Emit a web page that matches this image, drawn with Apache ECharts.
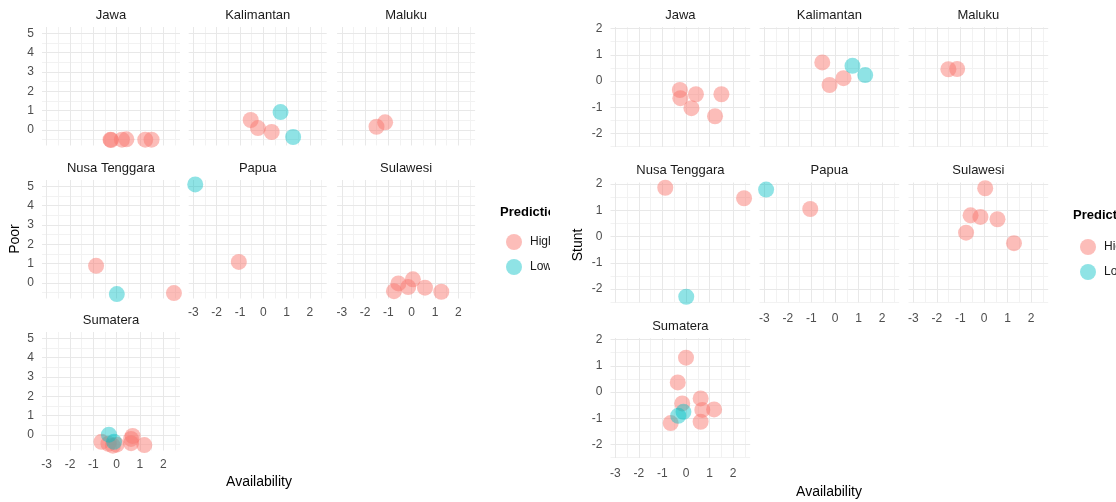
<!DOCTYPE html>
<html>
<head>
<meta charset="utf-8">
<script src="https://cdn.jsdelivr.net/npm/echarts@6/dist/echarts.min.js"></script>
<style>
html, body { margin: 0; padding: 0; background: #fff; }
#chart { width: 1116px; height: 502px; }
</style>
</head>
<body>
<div id="chart"></div>
<script>
// facet order (facet_wrap, 3 columns)
var regions = ['Jawa', 'Kalimantan', 'Maluku', 'Nusa Tenggara', 'Papua', 'Sulawesi', 'Sumatera'];

// one entry per province
var provRegion = [
  'Jawa', 'Jawa', 'Jawa', 'Jawa', 'Jawa', 'Jawa',
  'Kalimantan', 'Kalimantan', 'Kalimantan', 'Kalimantan', 'Kalimantan',
  'Maluku', 'Maluku',
  'Nusa Tenggara', 'Nusa Tenggara', 'Nusa Tenggara',
  'Papua', 'Papua',
  'Sulawesi', 'Sulawesi', 'Sulawesi', 'Sulawesi', 'Sulawesi', 'Sulawesi',
  'Sumatera', 'Sumatera', 'Sumatera', 'Sumatera', 'Sumatera',
  'Sumatera', 'Sumatera', 'Sumatera', 'Sumatera', 'Sumatera'
];
var availability = [
  -0.26, -0.24, 0.23, 0.42, 1.23, 1.5,
  -0.54, -0.23, 0.36, 0.74, 1.28,
  -1.51, -1.14,
  -0.88, 0.01, 2.46,
  -2.92, -1.05,
  -0.76, -0.57, -0.15, 0.05, 0.57, 1.27,
  0.0, -0.35, -0.16, 0.62, 0.69,
  1.19, 0.62, -0.65, -0.11, -0.33
];
var poor = [
  -0.5, -0.52, -0.5, -0.48, -0.5, -0.5,
  0.52, 0.1, -0.1, 0.93, -0.36,
  0.17, 0.4,
  0.89, -0.57, -0.52,
  5.1, 1.09,
  -0.42, -0.02, -0.21, 0.19, -0.24, -0.45,
  -0.5, -0.45, -0.55, -0.2, -0.05,
  -0.52, -0.42, -0.35, -0.35, 0.02
];
var stunt = [
  -0.34, -0.65, -1.03, -0.5, -1.34, -0.5,
  0.71, -0.15, 0.11, 0.58, 0.23,
  0.45, 0.46,
  1.86, -2.29, 1.46,
  1.79, 1.05,
  0.15, 0.81, 0.75, 1.84, 0.66, -0.25,
  1.31, 0.37, -0.43, -0.24, -0.68,
  -0.66, -1.13, -1.18, -0.75, -0.9
];
var prediction = [
  'High', 'High', 'High', 'High', 'High', 'High',
  'High', 'High', 'High', 'Low', 'Low',
  'High', 'High',
  'High', 'Low', 'High',
  'Low', 'High',
  'High', 'High', 'High', 'High', 'High', 'High',
  'High', 'High', 'High', 'High', 'High',
  'High', 'High', 'High', 'Low', 'Low'
];
var classes = ['High', 'Low'];

// gridline positions
var xMajor = [-3, -2, -1, 0, 1, 2];
var xMinor = [-2.5, -1.5, -0.5, 0.5, 1.5, 2.5];
var poorMajor = [0, 1, 2, 3, 4, 5];
var poorMinor = [-0.5, 0.5, 1.5, 2.5, 3.5, 4.5];
var stuntMajor = [-2, -1, 0, 1, 2];
var stuntMinor = [-2.5, -1.5, -0.5, 0.5, 1.5];

var colors = { High: 'rgba(248,118,109,0.6)', Low: 'rgba(0,191,196,0.55)' };
var font = 'Liberation Sans, Arial, sans-serif';

var plots = [
  {
    values: poor, yName: 'Poor', yMin: -0.8, yMax: 5.33, yMajor: poorMajor, yMinor: poorMinor,
    left: [42, 188.7, 337.1], width: 138, top: [27, 180, 332], height: 118.5,
    xMargin: 8, xTitle: [259, 482], yTitle: [15, 239],
    legendLeft: 501, legendTop: 229, legendTitle: [500, 212]
  },
  {
    values: stunt, yName: 'Stunt', yMin: -2.51, yMax: 2.06, yMajor: stuntMajor, yMinor: stuntMinor,
    left: [610.5, 759.5, 908.5], width: 139.7, top: [27, 182.5, 338], height: 120,
    xMargin: 10, xTitle: [829, 492], yTitle: [578, 245],
    legendLeft: 1075, legendTop: 234, legendTitle: [1073, 215]
  }
];

function intLabel(v) {
  return Math.abs(v - Math.round(v)) < 1e-6 ? String(Math.round(v)) : '';
}

var grids = [], xAxes = [], yAxes = [], series = [], graphics = [], legends = [];

plots.forEach(function (p) {
  regions.forEach(function (reg, r) {
    var col = r % 3, row = Math.floor(r / 3);
    var k = grids.length;
    grids.push({ left: p.left[col], top: p.top[row], width: p.width, height: p.height, containLabel: false });
    var showX = (r >= 4);
    var showY = (col === 0);
    xAxes.push({
      type: 'value', gridIndex: k, min: -3.2, max: 2.72,
      axisLine: { show: false }, axisTick: { show: false }, splitLine: { show: false },
      axisLabel: { show: showX, color: '#4d4d4d', fontSize: 12, fontFamily: font, margin: p.xMargin, formatter: intLabel }
    });
    yAxes.push({
      type: 'value', gridIndex: k, min: p.yMin, max: p.yMax,
      axisLine: { show: false }, axisTick: { show: false }, splitLine: { show: false },
      axisLabel: { show: showY, color: '#4d4d4d', fontSize: 12, fontFamily: font, margin: 8, formatter: intLabel }
    });

    var lines = [];
    xMinor.forEach(function (v) { lines.push({ xAxis: v, lineStyle: { color: '#f2f2f2', width: 1 } }); });
    p.yMinor.forEach(function (v) { lines.push({ yAxis: v, lineStyle: { color: '#f2f2f2', width: 1 } }); });
    xMajor.forEach(function (v) { lines.push({ xAxis: v, lineStyle: { color: '#e8e8e8', width: 1 } }); });
    p.yMajor.forEach(function (v) { lines.push({ yAxis: v, lineStyle: { color: '#e8e8e8', width: 1 } }); });
    series.push({
      name: 'grid', type: 'scatter', xAxisIndex: k, yAxisIndex: k, data: [], z: 1, silent: true,
      markLine: {
        z: 1, silent: true, symbol: ['none', 'none'], label: { show: false }, animation: false,
        emphasis: { disabled: true }, lineStyle: { type: 'solid' }, data: lines
      }
    });

    classes.forEach(function (c) {
      var pts = [];
      for (var i = 0; i < provRegion.length; i++) {
        if (provRegion[i] === reg && prediction[i] === c) pts.push([availability[i], p.values[i]]);
      }
      series.push({
        name: c, type: 'scatter', xAxisIndex: k, yAxisIndex: k, data: pts, z: 10,
        symbol: 'circle', symbolSize: 16, itemStyle: { color: colors[c] }, emphasis: { disabled: true }
      });
    });

    graphics.push({
      type: 'text', x: p.left[col] + p.width / 2, y: p.top[row] - 12, z: 10,
      style: { text: reg, fontSize: 13, fontFamily: font, fill: '#1a1a1a', align: 'center', verticalAlign: 'middle' }
    });
  });

  graphics.push({
    type: 'text', x: p.xTitle[0], y: p.xTitle[1], z: 10,
    style: { text: 'Availability', fontSize: 14, fontFamily: font, fill: '#000', align: 'center', verticalAlign: 'middle' }
  });
  graphics.push({
    type: 'text', x: p.yTitle[0], y: p.yTitle[1], rotation: Math.PI / 2, z: 10,
    style: { text: p.yName, fontSize: 14, fontFamily: font, fill: '#000', align: 'center', verticalAlign: 'middle' }
  });
  graphics.push({
    type: 'text', x: p.legendTitle[0], y: p.legendTitle[1], z: 10,
    style: { text: 'Prediction', fontSize: 13, fontWeight: 'bold', fontFamily: font, fill: '#000', align: 'left', verticalAlign: 'middle' }
  });
  legends.push({
    data: classes, orient: 'vertical', left: p.legendLeft, top: p.legendTop,
    icon: 'circle', itemWidth: 22, itemHeight: 16, itemGap: 9, selectedMode: false,
    textStyle: { fontSize: 12, color: '#1a1a1a', fontFamily: font }
  });
});

// the left panel is cropped at its right edge in the source image
graphics.push({ type: 'rect', shape: { x: 550, y: 195, width: 19, height: 80 }, style: { fill: '#fff' }, z: 100 });

var chart = echarts.init(document.getElementById('chart'));
chart.setOption({
  animation: false,
  backgroundColor: '#fff',
  textStyle: { fontFamily: font },
  grid: grids,
  xAxis: xAxes,
  yAxis: yAxes,
  legend: legends,
  graphic: graphics,
  series: series
});
</script>
</body>
</html>
